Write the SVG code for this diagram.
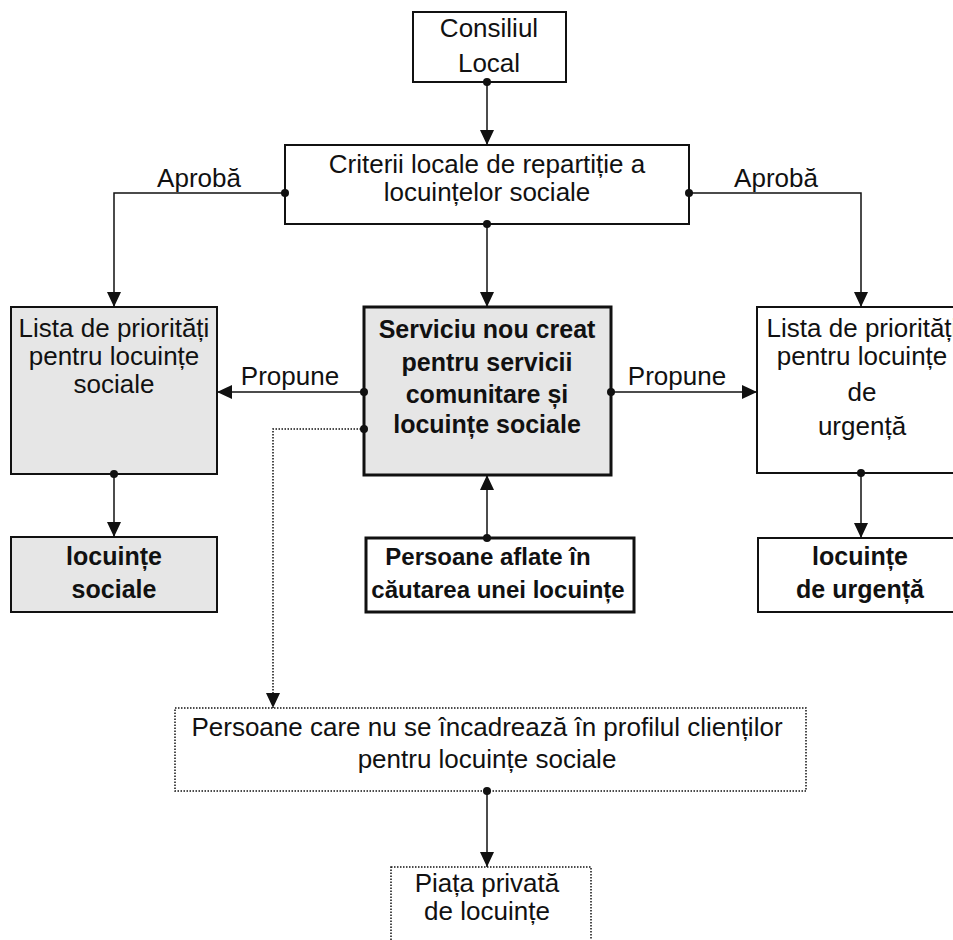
<svg xmlns="http://www.w3.org/2000/svg" width="953" height="940" viewBox="0 0 953 940">
  <style>
    text { font-family: "Liberation Sans", "DejaVu Sans", sans-serif; font-size: 26px; fill: #111; text-anchor: middle; }
    .b { font-weight: bold; font-size: 25px; }
    .b24 { font-size: 24px; }
    .box { fill: #fff; stroke: #111; stroke-width: 2; }
    .grey { fill: #e6e6e6; }
    .thick { stroke-width: 3; }
    .dot { fill: #fff; stroke: #111; stroke-width: 1.5; stroke-dasharray: 1.5 1.5; }
    .link { fill: none; stroke: #111; stroke-width: 1.5; }
    .dash { stroke-dasharray: 1.5 1.5; }
  </style>
  <defs>
    <marker id="arrow" markerUnits="userSpaceOnUse" markerWidth="16" markerHeight="16" viewBox="0 0 16 16" refX="15" refY="8" orient="auto">
      <path d="M0,1 L15,8 L0,15 Z" fill="#111"/>
    </marker>
    <marker id="knob" markerUnits="userSpaceOnUse" markerWidth="10" markerHeight="10" viewBox="0 0 10 10" refX="5" refY="5" orient="auto">
      <circle cx="5" cy="5" r="4" fill="#111"/>
    </marker>
  </defs>

  <g id="consiliul-local">
    <rect class="box" x="413" y="12" width="153" height="70"/>
    <text x="489" y="37">Consiliul</text>
    <text x="489" y="72">Local</text>
  </g>

  <g id="criterii">
    <rect class="box" x="285" y="145" width="404" height="79"/>
    <text x="487" y="173">Criterii locale de repartiție a</text>
    <text x="487" y="201">locuințelor sociale</text>
  </g>

  <g id="lista-sociale">
    <rect class="box grey" x="11" y="307" width="206" height="167"/>
    <text x="114" y="337">Lista de priorități</text>
    <text x="114" y="365">pentru locuințe</text>
    <text x="114" y="393">sociale</text>
  </g>

  <g id="serviciu">
    <rect class="box grey thick" x="364" y="307" width="247" height="168"/>
    <text class="b" x="487" y="338">Serviciu nou creat</text>
    <text class="b" x="487" y="371">pentru servicii</text>
    <text class="b" x="487" y="403">comunitare și</text>
    <text class="b" x="487" y="433">locuințe sociale</text>
  </g>

  <g id="lista-urgenta">
    <rect class="box" x="757" y="307" width="210" height="166"/>
    <text x="862" y="337">Lista de priorități</text>
    <text x="862" y="365">pentru locuințe</text>
    <text x="862" y="401">de</text>
    <text x="862" y="435">urgență</text>
  </g>

  <g id="locuinte-sociale">
    <rect class="box grey" x="11" y="537" width="206" height="75"/>
    <text class="b" x="114" y="565">locuințe</text>
    <text class="b" x="114" y="598">sociale</text>
  </g>

  <g id="persoane-aflate">
    <rect class="box thick" x="366" y="538" width="268" height="74"/>
    <text class="b b24" x="488" y="565">Persoane aflate în</text>
    <text class="b b24" x="498" y="598">căutarea unei locuințe</text>
  </g>

  <g id="locuinte-urgenta">
    <rect class="box" x="758" y="538" width="210" height="74"/>
    <text class="b" x="860" y="565">locuințe</text>
    <text class="b" x="860" y="598">de urgență</text>
  </g>

  <g id="persoane-neincadrate">
    <rect class="dot" x="175" y="708" width="631" height="83"/>
    <text x="487" y="736">Persoane care nu se încadrează în profilul clienților</text>
    <text x="487" y="768">pentru locuințe sociale</text>
  </g>

  <g id="piata-privata">
    <rect class="dot" x="391" y="867" width="200" height="90"/>
    <text x="487" y="892">Piața privată</text>
    <text x="487" y="920">de locuințe</text>
  </g>

  <!-- connectors drawn last so the knobs sit on top of the box borders -->
  <g id="connectors">
    <path class="link" d="M487,82 V145" marker-start="url(#knob)" marker-end="url(#arrow)"/>
    <path class="link" d="M285,193 H114 V307" marker-start="url(#knob)" marker-end="url(#arrow)"/>
    <path class="link" d="M689,193 H861 V307" marker-start="url(#knob)" marker-end="url(#arrow)"/>
    <path class="link" d="M487,224 V307" marker-start="url(#knob)" marker-end="url(#arrow)"/>
    <path class="link" d="M364,392 H217" marker-start="url(#knob)" marker-end="url(#arrow)"/>
    <path class="link" d="M611,392 H757" marker-start="url(#knob)" marker-end="url(#arrow)"/>
    <path class="link dash" d="M364,429 H273 V708" marker-start="url(#knob)" marker-end="url(#arrow)"/>
    <path class="link" d="M114,474 V537" marker-start="url(#knob)" marker-end="url(#arrow)"/>
    <path class="link" d="M487,538 V475" marker-start="url(#knob)" marker-end="url(#arrow)"/>
    <path class="link" d="M861,473 V538" marker-start="url(#knob)" marker-end="url(#arrow)"/>
    <path class="link" d="M487,791 V867" marker-start="url(#knob)" marker-end="url(#arrow)"/>
    <text x="199" y="187">Aprobă</text>
    <text x="776" y="187">Aprobă</text>
    <text x="290" y="385">Propune</text>
    <text x="677" y="385">Propune</text>
  </g>
</svg>
